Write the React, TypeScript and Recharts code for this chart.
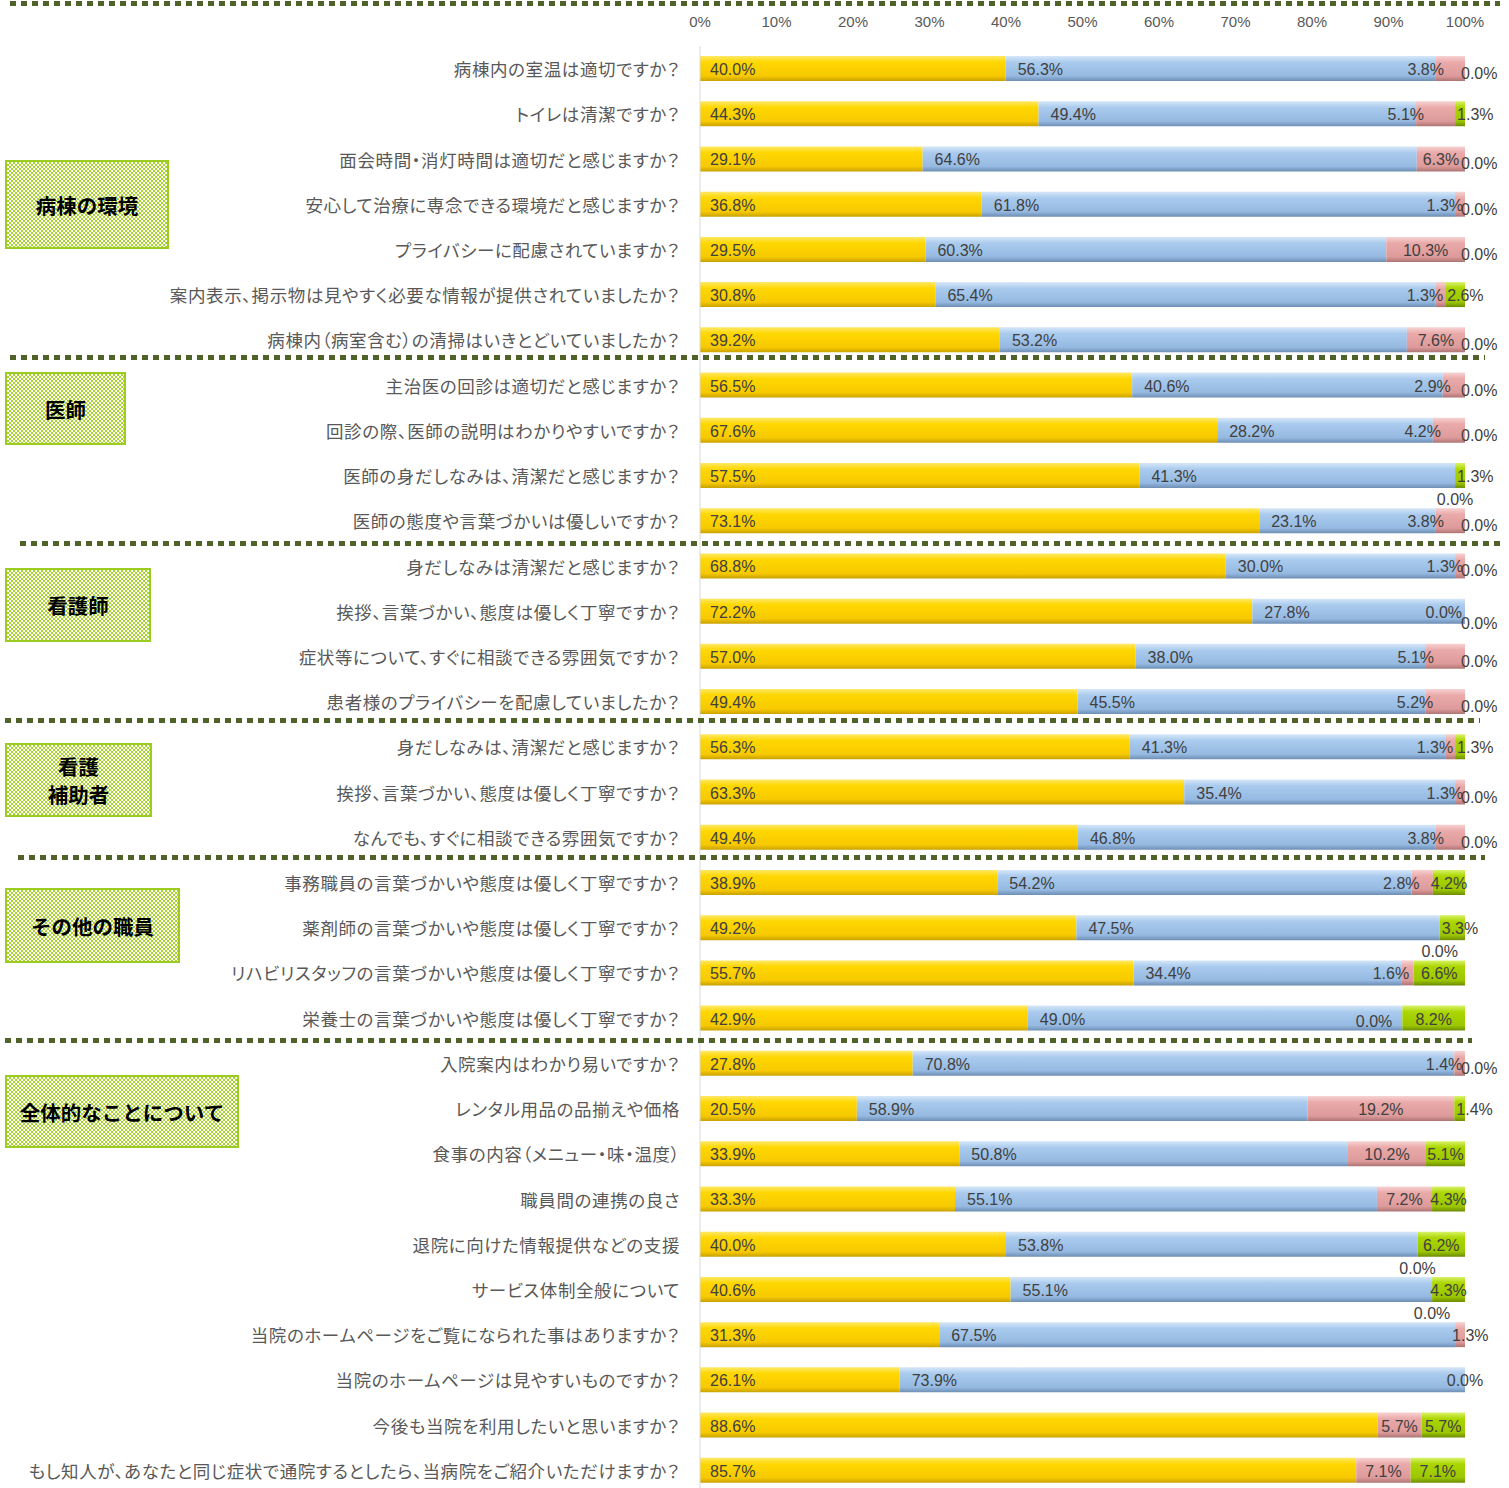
import { BarChart, Bar, XAxis, YAxis, LabelList } from "recharts";

// 質問項目（上から順）
const questions = [
  "病棟内の室温は適切ですか？",
  "トイレは清潔ですか？",
  "面会時間・消灯時間は適切だと感じますか？",
  "安心して治療に専念できる環境だと感じますか？",
  "プライバシーに配慮されていますか？",
  "案内表示、掲示物は見やすく必要な情報が提供されていましたか？",
  "病棟内（病室含む）の清掃はいきとどいていましたか？",
  "主治医の回診は適切だと感じますか？",
  "回診の際、医師の説明はわかりやすいですか？",
  "医師の身だしなみは、清潔だと感じますか？",
  "医師の態度や言葉づかいは優しいですか？",
  "身だしなみは清潔だと感じますか？",
  "挨拶、言葉づかい、態度は優しく丁寧ですか？",
  "症状等について、すぐに相談できる雰囲気ですか？",
  "患者様のプライバシーを配慮していましたか？",
  "身だしなみは、清潔だと感じますか？",
  "挨拶、言葉づかい、態度は優しく丁寧ですか？",
  "なんでも、すぐに相談できる雰囲気ですか？",
  "事務職員の言葉づかいや態度は優しく丁寧ですか？",
  "薬剤師の言葉づかいや態度は優しく丁寧ですか？",
  "リハビリスタッフの言葉づかいや態度は優しく丁寧ですか？",
  "栄養士の言葉づかいや態度は優しく丁寧ですか？",
  "入院案内はわかり易いですか？",
  "レンタル用品の品揃えや価格",
  "食事の内容（メニュー・味・温度）",
  "職員間の連携の良さ",
  "退院に向けた情報提供などの支援",
  "サービス体制全般について",
  "当院のホームページをご覧になられた事はありますか？",
  "当院のホームページは見やすいものですか？",
  "今後も当院を利用したいと思いますか？",
  "もし知人が、あなたと同じ症状で通院するとしたら、当病院をご紹介いただけますか？",
];

const yellowVals: (number | null)[] = [
  40.0, 44.3, 29.1, 36.8, 29.5, 30.8, 39.2, 56.5, 67.6, 57.5, 73.1, 68.8, 72.2, 57.0, 49.4, 56.3,
  63.3, 49.4, 38.9, 49.2, 55.7, 42.9, 27.8, 20.5, 33.9, 33.3, 40.0, 40.6, 31.3, 26.1, 88.6, 85.7,
];
const blueVals: (number | null)[] = [
  56.3, 49.4, 64.6, 61.8, 60.3, 65.4, 53.2, 40.6, 28.2, 41.3, 23.1, 30.0, 27.8, 38.0, 45.5, 41.3,
  35.4, 46.8, 54.2, 47.5, 34.4, 49.0, 70.8, 58.9, 50.8, 55.1, 53.8, 55.1, 67.5, 73.9, null, null,
];
const pinkVals: (number | null)[] = [
  3.8, 5.1, 6.3, 1.3, 10.3, 1.3, 7.6, 2.9, 4.2, 0.0, 3.8, 1.3, 0.0, 5.1, 5.2, 1.3,
  1.3, 3.8, 2.8, 0.0, 1.6, 0.0, 1.4, 19.2, 10.2, 7.2, 0.0, 0.0, 1.3, 0.0, 5.7, 7.1,
];
const greenVals: (number | null)[] = [
  0.0, 1.3, 0.0, 0.0, 0.0, 2.6, 0.0, 0.0, 0.0, 1.3, 0.0, 0.0, 0.0, 0.0, 0.0, 1.3,
  0.0, 0.0, 4.2, 3.3, 6.6, 8.2, 0.0, 1.4, 5.1, 4.3, 6.2, 4.3, null, null, 5.7, 7.1,
];

const xTicks = [0, 0.1, 0.2, 0.3, 0.4, 0.5, 0.6, 0.7, 0.8, 0.9, 1];

const groups = [
  { name: ["病棟の環境"], left: 5, top: 160, w: 164, h: 89 },
  { name: ["医師"], left: 5, top: 372, w: 121, h: 73 },
  { name: ["看護師"], left: 5, top: 568, w: 146, h: 74 },
  { name: ["看護", "補助者"], left: 5, top: 743, w: 147, h: 74 },
  { name: ["その他の職員"], left: 5, top: 888, w: 175, h: 75 },
  { name: ["全体的なことについて"], left: 5, top: 1075, w: 234, h: 73 },
];

const separators = [
  { top: 1, left: 10, right: 1500 },
  { top: 355, left: 10, right: 1485 },
  { top: 541, left: 20, right: 1500 },
  { top: 718, left: 5, right: 1480 },
  { top: 855, left: 18, right: 1485 },
  { top: 1038, left: 5, right: 1472 },
];

type Row = {
  id: number;
  y: number;
  b: number;
  p: number;
  g: number;
  yl: number | null;
  bl: number | null;
  pl: number | null;
  gl: number | null;
};

const data: Row[] = questions.map((_, i) => ({
  id: i,
  y: yellowVals[i] ?? 0,
  b: blueVals[i] ?? 0,
  p: pinkVals[i] ?? 0,
  g: greenVals[i] ?? 0,
  yl: yellowVals[i],
  bl: blueVals[i],
  pl: pinkVals[i],
  gl: greenVals[i],
}));

const rowOf = (d: any) => d;

const labelFont = "'Liberation Sans Narrow', 'Liberation Sans', sans-serif";
const labelColor = "#404040";

function geom(props: any) {
  const vb = props.viewBox || {};
  return {
    x: Number(props.x ?? vb.x),
    y: Number(props.y ?? vb.y),
    w: Number(props.width ?? vb.width),
    h: Number(props.height ?? vb.height),
  };
}

function Txt({ x, y, anchor, v }: any) {
  return (
    <text
      x={x}
      y={y}
      textAnchor={anchor}
      dominantBaseline="central"
      fontFamily={labelFont}
      fontSize={16}
      fill={labelColor}
    >
      {v.toFixed(1) + "%"}
    </text>
  );
}

// 黄色の系列ラベル ＋ 幅ゼロの系列（Rechartsが描かない）の 0.0% ラベル
const yellowLabel = (props: any) => {
  const r: Row = props.value;
  if (!r || r.yl === null) return null;
  const { x, y, w, h } = geom(props);
  const cy = y + h / 2 + 1;
  const total = r.y + r.b + r.p + r.g;
  const full = (w * total) / r.y; // 100% の幅（黄色バーの長さから）
  const pinkX = x + ((r.y + r.b) / total) * full;
  const endX = x + full;
  const out = [<Txt key="y" x={x + 10} y={cy} anchor="start" v={r.yl} />];
  if (r.pl === 0) {
    if (r.gl === null) out.push(<Txt key="p" x={pinkX} y={cy} anchor="middle" v={0} />);
    else if (r.gl === 0) out.push(<Txt key="p" x={pinkX - 3} y={cy} anchor="end" v={0} />);
    else if (r.gl > 7) out.push(<Txt key="p" x={pinkX - 10} y={cy + 2} anchor="end" v={0} />);
    else out.push(<Txt key="p" x={pinkX} y={cy + h - 2} anchor="middle" v={0} />);
  }
  if (r.gl === 0) {
    out.push(<Txt key="g" x={endX - 4} y={r.pl === 0 ? cy + 11 : cy + 4} anchor="start" v={0} />);
  }
  return <g>{out}</g>;
};

const blueLabel = (props: any) => {
  const r: Row = props.value;
  if (!r || r.bl === null || r.bl === 0) return null;
  const { x, y, h } = geom(props);
  return <Txt x={x + 12} y={y + h / 2 + 1} anchor="start" v={r.bl} />;
};

const pinkLabel = (props: any) => {
  const r: Row = props.value;
  if (!r || r.pl === null || r.pl === 0) return null;
  const { x, y, w, h } = geom(props);
  const cy = y + h / 2 + 1;
  if (w >= 40) return <Txt x={x + w / 2} y={cy} anchor="middle" v={r.pl} />;
  if (r.gl === null) return <Txt x={x - 3} y={cy} anchor="start" v={r.pl} />;
  return <Txt x={x + 8} y={cy} anchor="end" v={r.pl} />;
};

const greenLabel = (props: any) => {
  const r: Row = props.value;
  if (!r || r.gl === null || r.gl === 0) return null;
  const { x, y, w, h } = geom(props);
  const cy = y + h / 2 + 1;
  if (w >= 30) return <Txt x={x + w / 2} y={cy} anchor="middle" v={r.gl} />;
  return <Txt x={x + 2} y={cy} anchor="start" v={r.gl} />;
};

const CategoryTick = (props: any) => {
  const { x, y, payload } = props;
  return (
    <text
      x={x}
      y={y}
      textAnchor="end"
      dominantBaseline="central"
      fontFamily="'Noto Sans CJK JP', sans-serif"
      fontSize={17.5}
      letterSpacing={0.6}
      fill="#595959"
      style={{ fontFeatureSettings: "'palt'" }}
    >
      {questions[payload.value]}
    </text>
  );
};

function Grad({ id, c }: { id: string; c: string[] }) {
  return (
    <linearGradient id={id} x1="0" y1="0" x2="0" y2="1">
      <stop offset="0" stopColor={c[0]} />
      <stop offset="0.25" stopColor={c[1]} />
      <stop offset="0.8" stopColor={c[2]} />
      <stop offset="1" stopColor={c[3]} />
    </linearGradient>
  );
}

export default function App() {
  return (
    <div
      style={{
        position: "absolute",
        left: 0,
        top: 0,
        width: 1509,
        height: 1488,
        overflow: "hidden",
        background: "#fff",
      }}
    >
      <BarChart
        width={1509}
        height={1493}
        data={data}
        layout="vertical"
        stackOffset="expand"
        margin={{ top: 0, right: 44, bottom: 0, left: 0 }}
      >
        <defs>
          <Grad id="gY" c={["#ffe866", "#ffd700", "#f7c900", "#c9a200"]} />
          <Grad id="gB" c={["#d6e7f8", "#aacbee", "#95b9e1", "#6e8eb4"]} />
          <Grad id="gP" c={["#f7d2d2", "#eaaaaa", "#dd9a9a", "#ad7474"]} />
          <Grad id="gG" c={["#d8f36a", "#abd600", "#9bc600", "#6d8c00"]} />
        </defs>
        <XAxis
          type="number"
          orientation="top"
          domain={[0, 1]}
          ticks={xTicks}
          height={46}
          axisLine={false}
          tickLine={false}
          tickMargin={13}
          tick={{ fill: "#595959", fontSize: 15, fontFamily: labelFont }}
          tickFormatter={(v: number) => Math.round(v * 100) + "%"}
        />
        <YAxis
          type="category"
          dataKey="id"
          width={700}
          axisLine={{ stroke: "#d9d9d9" }}
          tickLine={false}
          tickMargin={14}
          interval={0}
          tick={<CategoryTick />}
        />
        <Bar dataKey="y" stackId="a" fill="url(#gY)" barSize={25} isAnimationActive={false}>
          <LabelList dataKey={rowOf} content={yellowLabel} />
        </Bar>
        <Bar dataKey="b" stackId="a" fill="url(#gB)" barSize={25} isAnimationActive={false}>
          <LabelList dataKey={rowOf} content={blueLabel} />
        </Bar>
        <Bar dataKey="p" stackId="a" fill="url(#gP)" barSize={25} isAnimationActive={false}>
          <LabelList dataKey={rowOf} content={pinkLabel} />
        </Bar>
        <Bar dataKey="g" stackId="a" fill="url(#gG)" barSize={25} isAnimationActive={false}>
          <LabelList dataKey={rowOf} content={greenLabel} />
        </Bar>
      </BarChart>

      {separators.map((s, i) => (
        <div
          key={i}
          style={{
            position: "absolute",
            top: s.top,
            left: s.left,
            width: s.right - s.left,
            height: 5,
            backgroundImage:
              "repeating-linear-gradient(to right, #4f6228 0px, #4f6228 6px, transparent 6px, transparent 11px)",
          }}
        />
      ))}

      {groups.map((g, i) => (
        <div
          key={i}
          style={{
            position: "absolute",
            left: g.left,
            top: g.top,
            width: g.w,
            height: g.h,
            boxSizing: "border-box",
            border: "2px solid #9acd20",
            background:
              "repeating-conic-gradient(#a6d32c 0% 25%, #ffffff 0% 50%) 0 0 / 4px 4px",
            display: "flex",
            flexDirection: "column",
            alignItems: "center",
            justifyContent: "center",
            fontFamily: "'Noto Sans CJK JP', sans-serif",
            fontWeight: 700,
            fontSize: 20.5,
            lineHeight: "28px",
            color: "#000",
          }}
        >
          {g.name.map((n, j) => (
            <div key={j}>{n}</div>
          ))}
        </div>
      ))}
    </div>
  );
}
